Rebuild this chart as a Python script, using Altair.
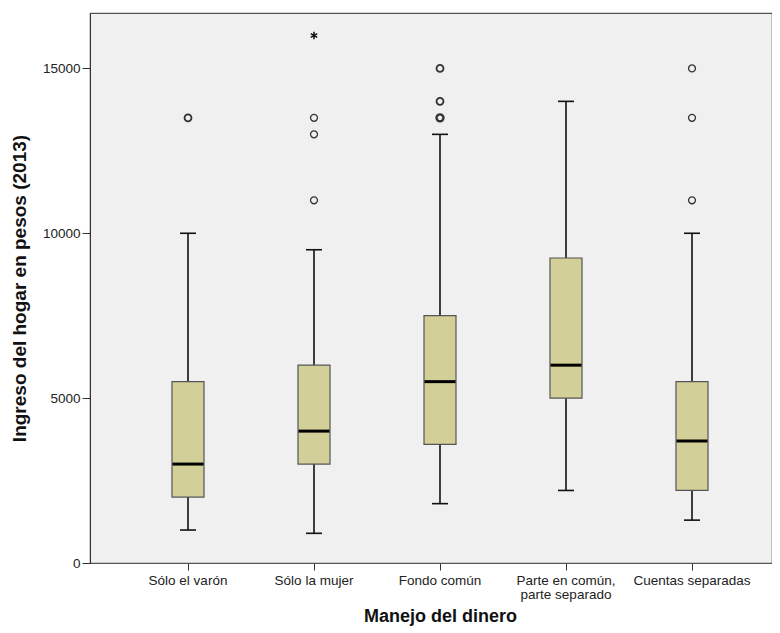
import altair as alt
import pandas as pd

categories = ["Sólo el varón", "Sólo la mujer", "Fondo común",
              "Parte en común, parte separado", "Cuentas separadas"]
whisker_low = [1000, 900, 1800, 2200, 1300]
q1 = [2000, 3000, 3600, 5000, 2200]
median = [3000, 4000, 5500, 6000, 3700]
q3 = [5500, 6000, 7500, 9250, 5500]
whisker_high = [10000, 9500, 13000, 14000, 10000]

outlier_group = ["Sólo el varón", "Sólo el varón",
                 "Sólo la mujer", "Sólo la mujer", "Sólo la mujer",
                 "Fondo común", "Fondo común", "Fondo común", "Fondo común",
                 "Fondo común", "Fondo común", "Fondo común",
                 "Cuentas separadas", "Cuentas separadas", "Cuentas separadas"]
outlier_value = [13500, 13500,
                 13500, 13000, 11000,
                 15000, 15000, 14000, 14000, 13500, 13500, 13500,
                 15000, 13500, 11000]

extreme_group = ["Sólo la mujer"]
extreme_value = [16000]

y_ticks = [0, 5000, 10000, 15000]

boxes = pd.DataFrame({"grupo": categories, "low": whisker_low, "q1": q1,
                      "med": median, "q3": q3, "high": whisker_high})
outs = pd.DataFrame({"grupo": outlier_group, "valor": outlier_value})
ext = pd.DataFrame({"grupo": extreme_group, "valor": extreme_value})

FONT = "Liberation Sans"

x_enc = alt.X("grupo:N", sort=categories,
              scale=alt.Scale(domain=categories, range=[35, 665],
                              paddingInner=0, paddingOuter=0),
              axis=alt.Axis(title="Manejo del dinero", domain=False,
                            labelExpr="datum.label == 'Parte en común, parte separado' ? ['Parte en común,', 'parte separado'] : datum.label",
                            labelAngle=0, labelFontSize=13.5, labelFont=FONT,
                            labelColor="#222", labelPadding=3, labelLineHeight=14,
                            tickSize=7, tickColor="#333",
                            titleFont=FONT, titleFontSize=18, titleFontWeight="bold",
                            titleColor="#111", titlePadding=7))

y_scale = alt.Scale(domain=[0, 16680], nice=False, zero=True)
y_axis = alt.Axis(title="Ingreso del hogar en pesos (2013)", values=y_ticks, format="d",
                  grid=False, labelFontSize=13.5, labelFont=FONT, labelColor="#222",
                  labelPadding=2, tickSize=8, tickColor="#333", domainColor="#333",
                  titleFont=FONT, titleFontSize=19, titleFontWeight="bold",
                  titleColor="#111", titlePadding=13)

base = alt.Chart(boxes)
LINE = dict(color="#111", opacity=1)

whisk_lo = base.mark_rule(strokeWidth=1.6, **LINE).encode(
    x=x_enc, y=alt.Y("low:Q", scale=y_scale, axis=y_axis), y2="q1:Q")
whisk_hi = base.mark_rule(strokeWidth=1.6, **LINE).encode(
    x=x_enc, y=alt.Y("q3:Q", scale=y_scale, axis=y_axis), y2="high:Q")
cap_lo = base.mark_tick(size=16, thickness=1.6, **LINE).encode(
    x=x_enc, y=alt.Y("low:Q", scale=y_scale, axis=y_axis))
cap_hi = base.mark_tick(size=16, thickness=1.6, **LINE).encode(
    x=x_enc, y=alt.Y("high:Q", scale=y_scale, axis=y_axis))
box = base.mark_bar(size=32, fill="#d3cf98", stroke="#555", strokeWidth=1.2,
                    opacity=1).encode(
    x=x_enc, y=alt.Y("q1:Q", scale=y_scale, axis=y_axis), y2="q3:Q")
med = base.mark_tick(color="#000", opacity=1, size=31, thickness=3).encode(
    x=x_enc, y=alt.Y("med:Q", scale=y_scale, axis=y_axis))

outliers = alt.Chart(outs).transform_aggregate(
    n="count()", groupby=["grupo", "valor"]
).mark_point(shape="circle", filled=False, size=48, color="#333", opacity=1).encode(
    x=x_enc, y=alt.Y("valor:Q", scale=y_scale, axis=y_axis),
    strokeWidth=alt.StrokeWidth("n:Q", scale=alt.Scale(domain=[1, 3], range=[1.3, 2.4]),
                                legend=None))

asterisk = "M0,-1L0,1M-0.87,-0.5L0.87,0.5M-0.87,0.5L0.87,-0.5"
extremes = alt.Chart(ext).mark_point(shape=asterisk, filled=False, size=55,
                                     color="#111", opacity=1, strokeWidth=1.5).encode(
    x=x_enc, y=alt.Y("valor:Q", scale=y_scale, axis=y_axis))

chart = alt.layer(whisk_lo, whisk_hi, cap_lo, cap_hi, box, med, outliers, extremes).properties(
    width=682, height=550,
    padding={"left": 2, "top": 5, "right": 0, "bottom": 0},
    background="white"
).configure_view(fill="#f0f0f0", stroke="#555", strokeWidth=1.2)

chart.save("out.html", embed_options={"renderer": "svg", "actions": False})
